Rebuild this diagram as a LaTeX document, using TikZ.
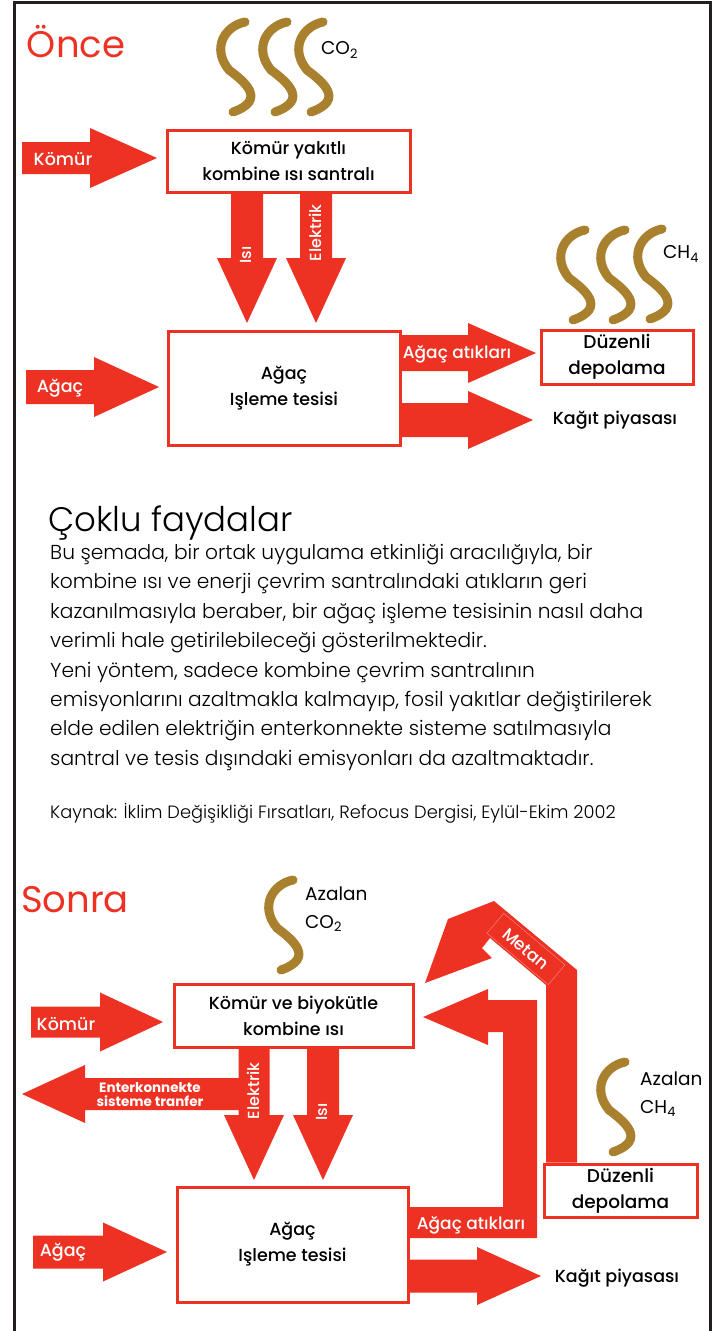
\documentclass[tikz,border=0pt]{standalone}
\usepackage{fontspec}
\setmainfont{Poppins}
\newfontfamily\lightfont{Poppins Light}
\newfontfamily\mediumfont{Poppins Medium}
\usetikzlibrary{calc}
\definecolor{flowred}{RGB}{237,50,36}
\definecolor{smokegold}{RGB}{168,128,46}
\definecolor{framegray}{RGB}{35,31,32}
\tikzset{%
	borderline/.style={draw=framegray, line width=3pt},
	box/.style={draw=flowred, line width=3pt, fill=white, align=center,
		inner sep=0pt, font=\mediumfont\fontsize{17.5}{26}\selectfont},
	flow/.style={fill=flowred},
	flowlabel/.style={text=white, inner sep=0pt, font=\mediumfont\fontsize{17.5}{20}\selectfont},
	sectiontitle/.style={text=flowred, inner sep=0pt, font=\fontsize{37}{40}\selectfont},
	plaintext/.style={inner sep=0pt, font=\mediumfont\fontsize{17.5}{20}\selectfont},
	gas/.style={inner sep=0pt, anchor=west, align=left, font=\fontsize{18.5}{28}\selectfont},
	smoke/.style={draw=smokegold, line width=9pt, line cap=round},
	puff/.pic={\draw[smoke] (0,0) .. controls (-20,4) and (-34,26) .. (-16,48)
		.. controls (0,60) and (22,78) .. (-12,90);},
}
% block arrow: #1 tail, #2 tip, #3 half shaft, #4 half head, #5 head length
\newcommand{\bigarrow}[5]{%
	\path let \p1=($(#2)-(#1)$) in \pgfextra{%
		\pgfmathsetmacro{\arrlen}{veclen(\x1,\y1)}\xdef\arrlen{\arrlen}%
		\pgfmathsetmacro{\arrang}{atan2(\y1,\x1)}\xdef\arrang{\arrang}};
	\fill[flow, shift={(#2)}, rotate=\arrang] (0,0) -- (-#5,#4) -- (-#5,#3)
		-- (-\arrlen,#3) -- (-\arrlen,-#3) -- (-#5,-#3) -- (-#5,-#4) -- cycle;}

\begin{document}
\begin{tikzpicture}[x=1pt, y=-1pt]
	\useasboundingbox (0,0) rectangle (715,1331);
	\draw[borderline] (14,1331) -- (14,2) -- (710,2) -- (710,1331);
	
	% Once
	\node[sectiontitle] (once) at (76,42) {Önce};
	\pic at (245,22) {puff};
	\pic at (287,22) {puff};
	\pic at (323,22) {puff};
	\node[gas] (co2a) at (321,50) {CO\textsubscript{2}};
	
	\node[box, minimum width=243, minimum height=62] (santral) at (288.5,161) {Kömür yakıtlı\\kombine ısı santralı};
	\node[box, minimum width=232, minimum height=114] (tesis) at (284,388) {Ağaç\\Işleme tesisi};
	\node[box, minimum width=152, minimum height=54, font=\mediumfont\fontsize{18.5}{26}\selectfont] (depo) at (617,357) {Düzenli\\depolama};
	\node[plaintext] (kagit) at (615,420) {Kağıt piyasası};
	
	\pic at (585,230) {puff};
	\pic at (625,230) {puff};
	\pic at (662,229) {puff};
	\node[gas] (ch4a) at (663,254) {CH\textsubscript{4}};
	
	\coordinate (komurtail) at (22,158);
	\coordinate (komurtip) at (157,158);
	\coordinate (isitip) at (247,323);
	\coordinate (isitail) at (santral.south -| isitip);
	\coordinate (elektriktip) at (316,323);
	\coordinate (elektriktail) at (santral.south -| elektriktip);
	\coordinate (agactail) at (26,387);
	\coordinate (agactip) at (159,387);
	\coordinate (atiktip) at (536,353);
	\coordinate (atiktail) at (tesis.east |- atiktip);
	\coordinate (kagittip) at (533,420);
	\coordinate (kagittail) at (tesis.east |- kagittip);
	
	\bigarrow{komurtail}{komurtip}{16}{30}{67}
	\bigarrow{isitail}{isitip}{16}{30}{65}
	\bigarrow{elektriktail}{elektriktip}{16}{30}{65}
	\bigarrow{agactail}{agactip}{17}{30}{65}
	\bigarrow{atiktail}{atiktip}{18}{30}{68}
	\bigarrow{kagittail}{kagittip}{17}{29}{65}
	
	\node[flowlabel] (komurlbl) at (63,159) {Kömür};
	\node[flowlabel, rotate=90, font=\mediumfont\fontsize{16}{20}\selectfont] (isilbl) at (246,255) {Isı};
	\node[flowlabel, rotate=90, font=\mediumfont\fontsize{16}{20}\selectfont] (elektriklbl) at (315,233) {Elektrik};
	\node[flowlabel] (agaclbl) at (60,388) {Ağaç};
	\node[flowlabel, font=\mediumfont\fontsize{17}{18}\selectfont] (atiklbl) at (457,354) {Ağaç atıkları};
	
	% Coklu faydalar
	\node[inner sep=0pt, anchor=base west, font=\lightfont\fontsize{34}{40}\selectfont] (baslik) at (48,531) {Çoklu faydalar};
	\node[inner sep=0pt, anchor=north west, align=left, font=\lightfont\fontsize{20.2}{29.4}\selectfont] (metin) at (50,544)
		{Bu şemada, bir ortak uygulama etkinliği aracılığıyla, bir\\
		kombine ısı ve enerji çevrim santralındaki atıkların geri\\
		kazanılmasıyla beraber, bir ağaç işleme tesisinin nasıl daha\\
		verimli hale getirilebileceği gösterilmektedir.\\
		Yeni yöntem, sadece kombine çevrim santralının\\
		emisyonlarını azaltmakla kalmayıp, fosil yakıtlar değiştirilerek\\
		elde edilen elektriğin enterkonnekte sisteme satılmasıyla\\
		santral ve tesis dışındaki emisyonları da azaltmaktadır.};
	\node[inner sep=0pt, anchor=base west, font=\lightfont\fontsize{17.8}{18}\selectfont] (kaynak) at (50,818)
		{Kaynak: İklim Değişikliği Fırsatları, Refocus Dergisi, Eylül-Ekim 2002};
	
	% Sonra
	\node[sectiontitle] (sonra) at (75,900) {Sonra};
	\pic at (293,880) {puff};
	\node[gas] (co2b) at (305,909) {Azalan\\CO\textsubscript{2}};
	
	\node[box, minimum width=239, minimum height=63] (santralb) at (293.5,1015.5) {Kömür ve biyokütle\\kombine ısı};
	\node[box, minimum width=231, minimum height=115] (tesisb) at (292.5,1244.5) {Ağaç\\Işleme tesisi};
	\node[box, minimum width=153, minimum height=53, font=\mediumfont\fontsize{18.5}{26}\selectfont] (depob) at (620.5,1190.5) {Düzenli\\depolama};
	\node[plaintext] (kagitb) at (617,1278) {Kağıt piyasası};
	
	\pic at (625,1062) {puff};
	\node[gas] (ch4b) at (640,1094) {Azalan\\CH\textsubscript{4}};
	
	\coordinate (komurtailb) at (31,1022);
	\coordinate (komurtipb) at (163,1022);
	\coordinate (elektriktipb) at (254,1180);
	\coordinate (elektriktailb) at (santralb.south -| elektriktipb);
	\coordinate (isitipb) at (323,1180);
	\coordinate (isitailb) at (santralb.south -| isitipb);
	\coordinate (transfertail) at (245,1094);
	\coordinate (transfertip) at (22,1094);
	\coordinate (agactailb) at (33,1252);
	\coordinate (agactipb) at (167,1252);
	\coordinate (kagittipb) at (541,1276);
	\coordinate (kagittailb) at (tesisb.east |- kagittipb);
	
	\bigarrow{komurtailb}{komurtipb}{15.5}{29.5}{63}
	\bigarrow{transfertail}{transfertip}{16}{29}{63}
	\bigarrow{elektriktailb}{elektriktipb}{15.5}{30}{65}
	\bigarrow{isitailb}{isitipb}{16}{30}{65}
	\bigarrow{agactailb}{agactipb}{16.5}{29.5}{64}
	\bigarrow{kagittailb}{kagittipb}{16.5}{29}{64}
	
	% waste back to the plant
	\fill[flow] (tesisb.east |- 0,1207) -- (503,1207) -- (503,1032) -- (488,1032) -- (488,1045)
		-- (423,1017) -- (488,989) -- (488,1000) -- (537,1000) -- (537,1238) -- (tesisb.east |- 0,1238) -- cycle;
	% methane from the landfill
	\fill[flow] (depob.north -| 546,0) -- (546,985) -- (490,938) -- (482,948) -- (492,958)
		-- (425,983) -- (448,919) -- (494,901) -- (577,970) -- (depob.north -| 577,0) -- cycle;
	
	\node[flowlabel] (komurlblb) at (66,1024) {Kömür};
	\node[flowlabel, align=center, font=\bfseries\fontsize{13.5}{14}\selectfont] (transferlbl) at (150,1095) {Enterkonnekte\\sisteme tranfer};
	\node[flowlabel, rotate=90, font=\mediumfont\fontsize{16}{20}\selectfont] (elektriklblb) at (253,1091) {Elektrik};
	\node[flowlabel, rotate=90, font=\mediumfont\fontsize{16}{20}\selectfont] (isilblb) at (322,1112) {Isı};
	\node[flowlabel] (agaclblb) at (63,1252) {Ağaç};
	\node[flowlabel, font=\mediumfont\fontsize{17}{18}\selectfont] (atiklblb) at (471,1225) {Ağaç atıkları};
	\node[flowlabel, rotate=-40, draw=flowred!55!white, line width=0.4pt, minimum width=80, minimum height=26, font=\mediumfont\fontsize{17}{18}\selectfont] (metanlbl) at (526,949) {Metan};
\end{tikzpicture}
\end{document}
